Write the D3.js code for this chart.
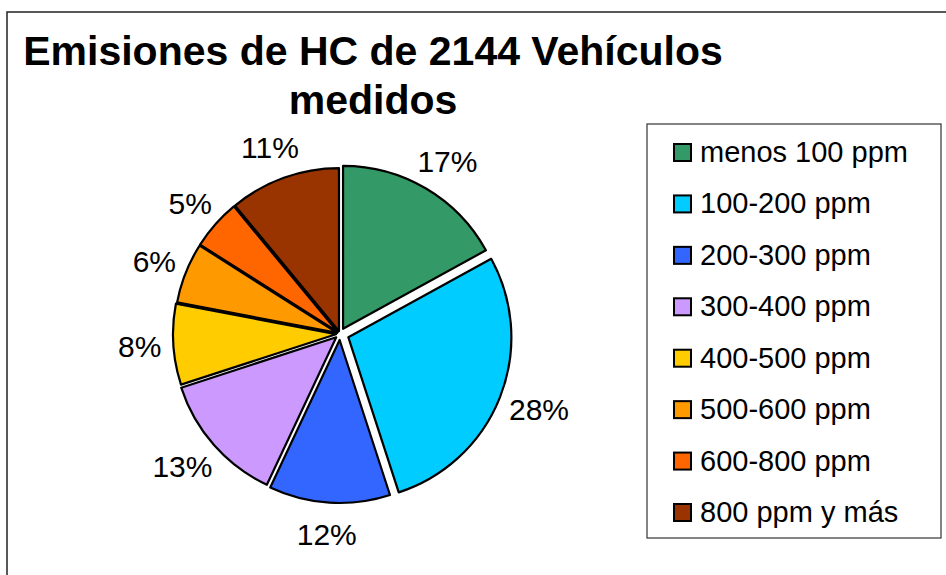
<!DOCTYPE html>
<html>
<head>
<meta charset="utf-8">
<script src="https://cdn.jsdelivr.net/npm/d3@7"></script>
<style>
  body { margin: 0; background: #fff; }
  svg { display: block; font-family: Arial, "Liberation Sans", sans-serif; }
</style>
</head>
<body>
<div id="chart"></div>
<script>
// Emisiones de HC: share of 2144 measured vehicles per ppm band
var categories = ["menos 100 ppm", "100-200 ppm", "200-300 ppm", "300-400 ppm",
                  "400-500 ppm", "500-600 ppm", "600-800 ppm", "800 ppm y más"];
var percents = [17, 28, 12, 13, 8, 6, 5, 11];
var titleLines = ["Emisiones de HC de 2144 Vehículos", "medidos"];

var colors = ["#339966", "#00CCFF", "#3366FF", "#CC99FF",
              "#FFCC00", "#FF9900", "#FF6600", "#993300"];
// how far each slice is pulled out of the pie (px)
var explode = [6, 9, 6, 5, 4, 3, 3, 3];

var width = 946, height = 575;
var cx = 340, cy = 334, radius = 163;

var svg = d3.select("#chart").append("svg")
  .attr("width", width)
  .attr("height", height);

// chart area frame (runs off the right and bottom edges)
svg.append("rect")
  .attr("x", 7).attr("y", 12)
  .attr("width", 960).attr("height", 590)
  .attr("fill", "none")
  .attr("stroke", "#222")
  .attr("stroke-width", 1.5);

svg.selectAll("text.title")
  .data(titleLines)
  .join("text")
  .attr("class", "title")
  .attr("x", 373)
  .attr("y", function (d, i) { return 65 + i * 49; })
  .attr("text-anchor", "middle")
  .attr("font-size", 41)
  .attr("font-weight", "bold")
  .text(function (d) { return d; });

var pie = d3.pie().sort(null).value(function (d) { return d; });
var arcs = pie(percents);
var arc = d3.arc().innerRadius(0).outerRadius(radius);

function midAngle(d) { return (d.startAngle + d.endAngle) / 2; }

var g = svg.append("g").attr("transform", "translate(" + cx + "," + cy + ")");

g.selectAll("path.slice")
  .data(arcs)
  .join("path")
  .attr("class", "slice")
  .attr("d", arc)
  .attr("transform", function (d, i) {
    var a = midAngle(d);
    return "translate(" + (Math.sin(a) * explode[i]) + "," + (-Math.cos(a) * explode[i]) + ")";
  })
  .attr("fill", function (d, i) { return colors[i]; })
  .attr("stroke", "#000")
  .attr("stroke-width", 2.2)
  .attr("stroke-linejoin", "round");

// percentage labels just outside each slice
var labels = g.selectAll("text.pct")
  .data(arcs)
  .join("text")
  .attr("class", "pct")
  .attr("font-size", 30)
  .attr("text-anchor", "middle")
  .attr("dominant-baseline", "central")
  .text(function (d) { return d.data + "%"; });

labels.each(function (d, i) {
  var a = midAngle(d);
  var w = this.getComputedTextLength();
  var r = radius + explode[i] + 12;
  var x = Math.sin(a) * r + Math.sin(a) * w / 2;
  var y = -Math.cos(a) * r - Math.cos(a) * 20;
  d3.select(this).attr("x", x).attr("y", y);
});

// legend
var lx = 647, ly = 124, lw = 294, lh = 414;
svg.append("rect")
  .attr("x", lx).attr("y", ly)
  .attr("width", lw).attr("height", lh)
  .attr("fill", "#fff")
  .attr("stroke", "#333")
  .attr("stroke-width", 1.2);

var rowY = d3.scalePoint().domain(categories).range([152, 512]);

var items = svg.selectAll("g.item")
  .data(categories)
  .join("g")
  .attr("class", "item")
  .attr("transform", function (d) { return "translate(0," + rowY(d) + ")"; });

items.append("rect")
  .attr("x", 674).attr("y", -8)
  .attr("width", 17).attr("height", 17)
  .attr("fill", function (d, i) { return colors[i]; })
  .attr("stroke", "#000")
  .attr("stroke-width", 2);

items.append("text")
  .attr("x", 700)
  .attr("y", 0)
  .attr("dominant-baseline", "central")
  .attr("font-size", 29)
  .text(function (d) { return d; });
</script>
</body>
</html>
